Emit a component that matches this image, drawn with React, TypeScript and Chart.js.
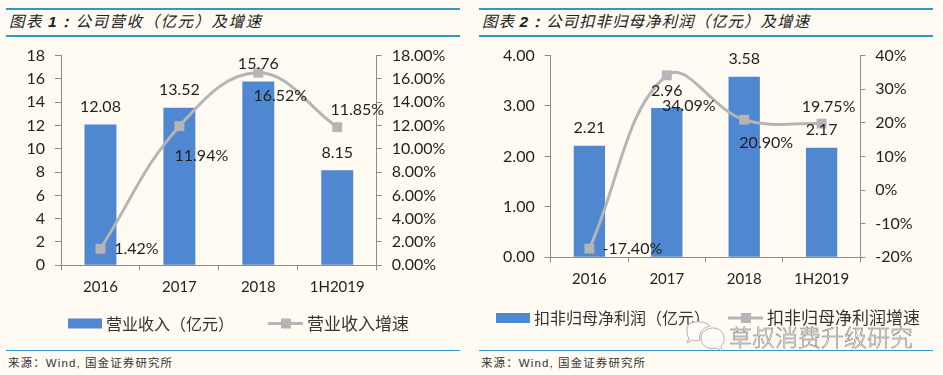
import React, { useEffect, useRef } from "react";
import { Chart, registerables } from "chart.js";

Chart.register(...registerables);

// ---- data ----
const categories = ["2016", "2017", "2018", "1H2019"];
const revenue = [12.08, 13.52, 15.76, 8.15];
const revenueGrowth = [1.42, 11.94, 16.52, 11.85];
const profit = [2.21, 2.96, 3.58, 2.17];
const profitGrowth = [-17.4, 34.09, 20.9, 19.75];

const FONT = "Lato, 'Noto Sans', sans-serif";
const CJK = "'Noto Sans CJK SC', sans-serif";
const BAR = "#4F87D1";
const LINE = "#B5B5B5";
const AXIS = "#8C8C8C";
const TEXT = "#1f1f1f";
const RULE = "#2F98C3";
const BG = "#FFFBF2";

const labelsPlugin = {
  id: "panelLabels",
  afterDatasetsDraw(chart: any, _a: any, o: any) {
    const ctx = chart.ctx;
    ctx.save();
    ctx.font = `16px ${FONT}`;
    ctx.fillStyle = TEXT;
    ctx.textAlign = "center";
    ctx.textBaseline = "middle";
    const bars = chart.getDatasetMeta(0).data;
    const pts = chart.getDatasetMeta(1).data;
    bars.forEach((b: any, i: number) => {
      ctx.fillText(o.barText[i], b.x, b.y - 17.5);
    });
    pts.forEach((p: any, i: number) => {
      const [dx, dy] = o.lineOffsets[i];
      ctx.fillText(o.lineText[i], p.x + dx, p.y + dy);
    });
    // legend
    const L = o.legend;
    ctx.fillStyle = BAR;
    ctx.fillRect(L.x0, L.y - 5, 34, 10);
    ctx.strokeStyle = LINE;
    ctx.lineWidth = 3;
    ctx.beginPath();
    ctx.moveTo(L.x1, L.y);
    ctx.lineTo(L.x1 + 35, L.y);
    ctx.stroke();
    ctx.fillStyle = LINE;
    ctx.fillRect(L.x1 + 13, L.y - 5, 10, 10);
    ctx.fillStyle = "#333";
    ctx.textAlign = "left";
    ctx.font = `16px ${CJK}`;
    ctx.fillText(chart.data.datasets[0].label, L.x0 + 38, L.y);
    ctx.font = `17px ${CJK}`;
    ctx.fillText(chart.data.datasets[1].label, L.x1 + 39, L.y);
    ctx.restore();
  },
};

function Panel(props: any) {
  const ref = useRef<HTMLCanvasElement>(null);
  useEffect(() => {
    const p = props;
    const tick = { color: TEXT, font: { family: FONT, size: 16 } };
    const grid = { drawOnChartArea: false, drawTicks: true, color: AXIS };
    const chart = new Chart(ref.current!, {
      type: "bar",
      data: {
        labels: categories,
        datasets: [
          {
            type: "bar",
            label: p.barLabel,
            data: p.bars,
            backgroundColor: BAR,
            yAxisID: "y",
            barPercentage: 1,
            categoryPercentage: 0.405,
            order: 2,
          },
          {
            type: "line",
            label: p.lineLabel,
            data: p.line,
            borderColor: LINE,
            borderWidth: 3,
            tension: 0.4,
            pointStyle: "rect",
            pointRadius: 7,
            pointBackgroundColor: LINE,
            pointBorderColor: LINE,
            pointBorderWidth: 0,
            yAxisID: "y1",
            order: 1,
            clip: false,
          },
        ],
      } as any,
      options: {
        animation: false,
        responsive: false,
        layout: { padding: { top: p.top, right: 0, left: 0, bottom: 0 } },
        plugins: {
          legend: { display: false },
          tooltip: { enabled: false },
          title: { display: false },
          panelLabels: {
            barText: p.barText,
            lineText: p.lineText,
            lineOffsets: p.lineOffsets,
            legend: p.legend,
          },
        },
        scales: {
          x: {
            grid: { ...grid, tickLength: 5, offset: true },
            border: { color: AXIS },
            ticks: { ...tick, padding: 8, maxRotation: 0, autoSkip: false, font: { family: FONT, size: 15 } },
            afterFit: (s: any) => { s.height = 375 - p.bottom; },
          },
          y: {
            position: "left",
            min: p.yMin, max: p.yMax,
            grid: { ...grid, tickLength: 6 },
            border: { color: AXIS },
            ticks: { ...tick, padding: 10, stepSize: p.yStep, callback: p.yFmt },
            afterFit: (s: any) => { s.width = p.left; },
          },
          y1: {
            position: "right",
            min: p.y1Min, max: p.y1Max,
            grid: { ...grid, tickLength: 5 },
            border: { color: AXIS },
            ticks: { ...tick, padding: 10, stepSize: p.y1Step, callback: p.y1Fmt },
            afterFit: (s: any) => { s.width = p.width - p.right; },
          },
        },
      } as any,
      plugins: [labelsPlugin],
    } as any);
    return () => chart.destroy();
  }, []);
  return (
    <canvas
      ref={ref}
      width={props.width}
      height={375}
      style={{ position: "absolute", left: props.x, top: 0, width: props.width, height: 375 }}
    />
  );
}

function Frame({ x, w, title, num, spacing }: any) {
  const rule = (top: number, h: number) => (
    <div style={{ position: "absolute", left: x, top, width: w, height: h, background: RULE }} />
  );
  return (
    <>
      {rule(8, 2)}
      {rule(35, 2)}
      {rule(350, 1)}
      <div
        style={{
          position: "absolute", left: x + 3, top: 9, height: 25, lineHeight: "25px",
          font: `italic 400 15.5px ${CJK}`, color: "#222", letterSpacing: spacing, whiteSpace: "nowrap",
        }}
      >
        图表 <b style={{ fontFamily: "'Liberation Sans', sans-serif" }}>{num}：</b>{title}
      </div>
      <div
        style={{
          position: "absolute", left: x + 2, top: 354, height: 16, lineHeight: "16px",
          font: `11.5px ${CJK}`, color: "#333", letterSpacing: "1.1px", whiteSpace: "nowrap",
        }}
      >
        来源：<span style={{ fontFamily: "'Liberation Sans', sans-serif" }}>Wind, </span>国金证券研究所
      </div>
    </>
  );
}

export default function App() {
  return (
    <div style={{ position: "fixed", left: 0, top: 0, width: 943, height: 375, background: BG, overflow: "hidden" }}>
      <Frame x={6} w={454} num="1" title="公司营收（亿元）及增速" spacing="1.5px" />
      <Frame x={479} w={454} num="2" title="公司扣非归母净利润（亿元）及增速" spacing="1px" />
      <Panel
        x={0} width={470} left={61} right={376.7} top={55.5} bottom={265.3}
        bars={revenue} line={revenueGrowth}
        barLabel="营业收入（亿元）" lineLabel="营业收入增速"
        barText={["12.08", "13.52", "15.76", "8.15"]}
        lineText={["1.42%", "11.94%", "16.52%", "11.85%"]}
        lineOffsets={[[36, 0], [22, 30], [22, 23], [20, -17]]}
        yMin={0} yMax={18} yStep={2} yFmt={(v: number) => String(v)}
        y1Min={0} y1Max={18} y1Step={2} y1Fmt={(v: number) => v.toFixed(2) + "%"}
        legend={{ x0: 68, x1: 268, y: 323.5 }}
      />
      <Panel
        x={470} width={473} left={80.7} right={390.3} top={55.5} bottom={257.3}
        bars={profit} line={profitGrowth}
        barLabel="扣非归母净利润（亿元）" lineLabel="扣非归母净利润增速"
        barText={["2.21", "2.96", "3.58", "2.17"]}
        lineText={["-17.40%", "34.09%", "20.90%", "19.75%"]}
        lineOffsets={[[43, 0], [22, 30], [22, 23], [7, -17]]}
        yMin={0} yMax={4} yStep={1} yFmt={(v: number) => v.toFixed(2)}
        y1Min={-20} y1Max={40} y1Step={10} y1Fmt={(v: number) => v + "%"}
        legend={{ x0: 26, x1: 258, y: 318 }}
      />
      <svg width="48" height="34" style={{ position: "absolute", left: 684, top: 318 }}>
        <path d="M3 10 C3 3 20 1 26 8 C20 9 14 14 16 22 C12 23 10 23 8 22 L3 25 L5 20 C3 18 3 14 3 10 Z" fill="#FFFDF8" stroke="#b0b0b0" strokeWidth="1" />
        <path d="M17 20 C17 12 27 8 34 11 C41 14 42 24 37 28 L38 33 L32 30 C24 32 17 28 17 20 Z" fill="#FFFDF8" stroke="#b0b0b0" strokeWidth="1" />
      </svg>
      <div
        style={{
          position: "absolute", left: 729, top: 319, height: 28, lineHeight: "28px",
          font: `300 23px ${CJK}`, color: "rgba(255,253,248,0.6)", WebkitTextStroke: "0.5px #777", whiteSpace: "nowrap",
        }}
      >
        草叔消费升级研究
      </div>
    </div>
  );
}
